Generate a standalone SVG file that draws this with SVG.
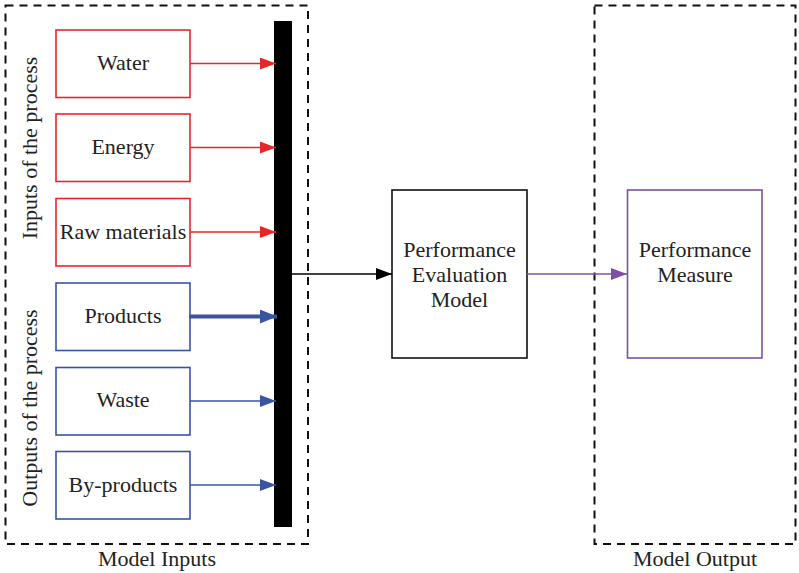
<svg xmlns="http://www.w3.org/2000/svg" width="799" height="573" viewBox="0 0 799 573">
<style>
text{font-family:'Liberation Serif','DejaVu Serif',serif;font-size:22px;fill:#222;text-anchor:middle}
.dash{fill:none;stroke:#111;stroke-width:2;stroke-dasharray:8,6}
.red{fill:#fff;stroke:#e8262a;stroke-width:1.6}
.blue{fill:#fff;stroke:#3a54a4;stroke-width:1.6}
.rl{stroke:#e8262a;stroke-width:1.6;fill:none}
.bl{stroke:#3a54a4;stroke-width:1.6;fill:none}
</style>
<defs>
<marker id="ar" markerWidth="16" markerHeight="12" refX="16" refY="6" orient="auto" markerUnits="userSpaceOnUse"><path d="M0,0L16,6L0,12z" fill="#e8262a"/></marker>
<marker id="ab" markerWidth="16" markerHeight="12" refX="16" refY="6" orient="auto" markerUnits="userSpaceOnUse"><path d="M0,0L16,6L0,12z" fill="#3a54a4"/></marker>
<marker id="abk" markerWidth="17" markerHeight="14" refX="17" refY="7" orient="auto" markerUnits="userSpaceOnUse"><path d="M0,0L17,7L0,14z" fill="#3a54a4"/></marker>
<marker id="ak" markerWidth="16" markerHeight="12" refX="16" refY="6" orient="auto" markerUnits="userSpaceOnUse"><path d="M0,0L16,6L0,12z" fill="#000"/></marker>
<marker id="ap" markerWidth="16" markerHeight="12" refX="16" refY="6" orient="auto" markerUnits="userSpaceOnUse"><path d="M0,0L16,6L0,12z" fill="#7d4fa6"/></marker>
</defs>
<g id="model-inputs">
<rect class="dash" x="5.5" y="5.5" width="302.5" height="538.5"/>
<text x="157" y="566">Model Inputs</text>
</g>
<g id="model-output">
<rect class="dash" x="594.5" y="5.5" width="201" height="538.5"/>
<text x="695" y="566">Model Output</text>
</g>
<g id="label-inputs"><text transform="translate(37,148) rotate(-90)">Inputs of the process</text></g>
<g id="label-outputs"><text transform="translate(37,408) rotate(-90)">Outputs of the process</text></g>
<g id="water"><rect class="red" x="56" y="30" width="134" height="67.5"/><text x="123" y="70">Water</text></g>
<g id="energy"><rect class="red" x="56" y="114" width="134" height="67.5"/><text x="123" y="154">Energy</text></g>
<g id="raw"><rect class="red" x="56" y="198.5" width="134" height="67.5"/><text x="123" y="239">Raw materials</text></g>
<g id="products"><rect class="blue" x="56" y="283" width="134" height="67.5"/><text x="123" y="323">Products</text></g>
<g id="waste"><rect class="blue" x="56" y="367.5" width="134" height="67.5"/><text x="123" y="407">Waste</text></g>
<g id="byproducts"><rect class="blue" x="56" y="451.5" width="134" height="67.5"/><text x="123" y="492">By-products</text></g>
<g id="bar"><rect x="274" y="21" width="18" height="506" fill="#000"/></g>
<g id="pem"><rect x="392" y="190" width="135" height="168" fill="#fff" stroke="#111" stroke-width="1.6"/>
<text x="459.5" y="257">Performance</text><text x="459.5" y="282">Evaluation</text><text x="459.5" y="307">Model</text></g>
<g id="pm"><rect x="627.5" y="190" width="134.5" height="168" fill="#fff" stroke="#7d4fa6" stroke-width="1.6"/>
<text x="695" y="257">Performance</text><text x="695" y="282">Measure</text></g>
<g id="connectors">
<line class="rl" x1="190" y1="63.5" x2="276" y2="63.5" marker-end="url(#ar)"/>
<line class="rl" x1="190" y1="147.5" x2="276" y2="147.5" marker-end="url(#ar)"/>
<line class="rl" x1="190" y1="232" x2="276" y2="232" marker-end="url(#ar)"/>
<line x1="189" y1="316.5" x2="277" y2="316.5" stroke="#3a54a4" stroke-width="4" marker-end="url(#abk)"/>
<line class="bl" x1="190" y1="401" x2="276" y2="401" marker-end="url(#ab)"/>
<line class="bl" x1="190" y1="485" x2="276" y2="485" marker-end="url(#ab)"/>
<line x1="292" y1="274" x2="392" y2="274" stroke="#000" stroke-width="1.6" marker-end="url(#ak)"/>
<line x1="527" y1="274" x2="627" y2="274" stroke="#7d4fa6" stroke-width="1.6" marker-end="url(#ap)"/>
</g>
</svg>
